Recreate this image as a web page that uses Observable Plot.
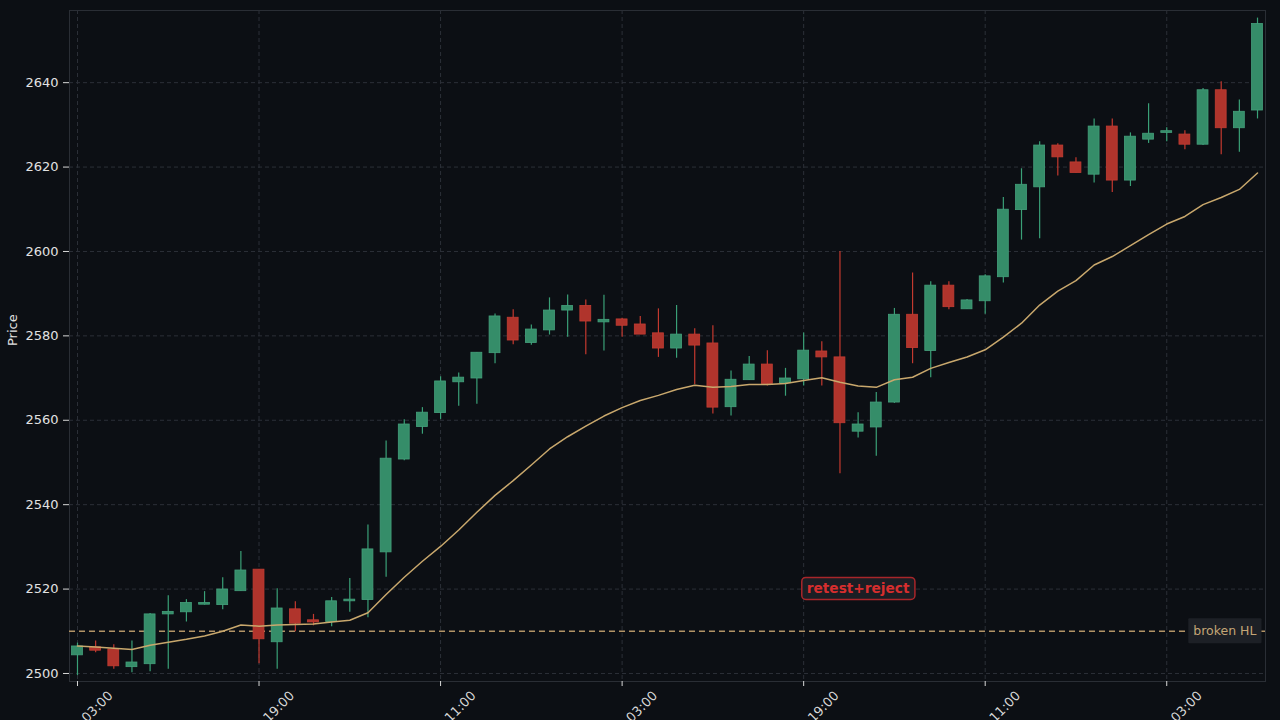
<!DOCTYPE html>
<html><head><meta charset="utf-8">
<script src="https://cdn.jsdelivr.net/npm/d3@7"></script>
<script src="https://cdn.jsdelivr.net/npm/@observablehq/plot@0.6"></script>
<style>
html,body{margin:0;padding:0;background:#0c0f14;overflow:hidden;}
#chart{width:1280px;height:720px;}
</style></head><body><div id="chart"></div>
<script>
const startTime = "2024-03-04T03:00:00Z";
const stepHours = 4;
const open  = [2504.3,2506.2,2505.7,2501.5,2502.2,2514.0,2514.5,2516.3,2516.2,2519.5,
               2524.6,2507.4,2515.2,2512.6,2512.2,2517.1,2517.4,2528.7,2550.7,2558.4,
               2561.7,2569.0,2569.9,2575.9,2584.3,2578.3,2581.3,2586.0,2587.1,2583.2,
               2583.9,2582.7,2580.6,2577.0,2580.3,2578.2,2563.1,2569.5,2573.2,2568.8,
               2569.7,2576.3,2574.9,2557.3,2558.3,2564.2,2585.0,2576.4,2591.9,2586.3,
               2588.2,2593.9,2609.8,2615.2,2625.1,2621.1,2618.2,2629.6,2616.8,2626.5,
               2628.1,2627.7,2625.3,2638.2,2629.2,2633.4];
const high  = [2507.2,2507.7,2506.8,2507.7,2514.2,2518.4,2517.5,2519.4,2522.7,2528.9,
               2524.6,2520.1,2517.0,2514.0,2518.0,2522.5,2535.2,2555.1,2560.1,2563.0,
               2570.3,2571.2,2576.0,2585.2,2586.2,2582.6,2589.0,2589.7,2588.5,2589.6,
               2584.2,2584.6,2586.4,2587.2,2581.7,2582.4,2571.7,2575.1,2576.5,2572.3,
               2580.7,2578.6,2600.0,2561.8,2566.6,2586.5,2594.9,2592.8,2592.8,2588.6,
               2594.5,2612.8,2619.6,2626.0,2625.5,2622.2,2631.4,2631.4,2628.1,2635.0,
               2629.3,2628.6,2638.6,2640.2,2635.9,2655.3];
const low   = [2499.5,2504.9,2501.0,2500.2,2500.4,2501.0,2512.2,2516.2,2515.1,2519.5,
               2502.3,2501.0,2509.9,2511.3,2511.1,2514.5,2513.2,2522.8,2550.4,2556.7,
               2560.2,2563.3,2563.8,2573.4,2577.9,2577.8,2580.2,2579.7,2575.5,2576.4,
               2579.7,2580.3,2574.9,2574.7,2568.5,2561.5,2561.0,2569.5,2568.1,2565.7,
               2568.1,2568.1,2547.3,2555.8,2551.5,2564.0,2573.4,2570.1,2586.2,2586.3,
               2585.1,2592.5,2602.7,2603.0,2617.9,2618.6,2616.2,2614.0,2615.4,2625.6,
               2626.0,2624.1,2625.1,2622.9,2623.5,2631.4];
const close = [2506.4,2505.4,2501.7,2502.6,2514.0,2514.6,2516.7,2516.7,2519.9,2524.4,
               2508.1,2515.4,2511.8,2512.1,2517.1,2517.5,2529.4,2550.9,2559.0,2561.8,
               2569.2,2570.1,2576.0,2584.6,2578.9,2581.5,2586.0,2587.1,2583.4,2583.8,
               2582.4,2580.3,2577.0,2580.3,2577.7,2563.0,2569.6,2573.2,2568.6,2569.9,
               2576.5,2574.9,2559.3,2559.0,2564.2,2585.0,2577.1,2591.9,2586.8,2588.4,
               2594.1,2609.9,2615.8,2625.1,2622.3,2618.6,2629.6,2616.8,2627.2,2627.9,
               2628.5,2625.3,2638.2,2629.2,2633.1,2653.9];
const ma    = [2506.5,2506.3,2506.0,2505.7,2506.7,2507.4,2508.1,2508.9,2510.0,2511.5,
               2511.2,2511.5,2511.6,2511.7,2512.2,2512.6,2514.4,2518.7,2522.8,2526.6,
               2530.1,2534.0,2538.2,2542.2,2545.7,2549.4,2553.2,2556.1,2558.6,2561.0,
               2563.0,2564.7,2565.9,2567.3,2568.3,2567.8,2568.0,2568.5,2568.5,2568.7,
               2569.4,2570.1,2569.0,2568.1,2567.8,2569.6,2570.2,2572.3,2573.7,2575.0,
               2576.7,2579.7,2583.0,2587.3,2590.6,2593.1,2596.8,2598.8,2601.4,2604.0,
               2606.5,2608.3,2611.1,2612.8,2614.7,2618.6];
const xTickIndex = [0,10,20,30,40,50,60];
const yTicks = [2500,2520,2540,2560,2580,2600,2620,2640];
const levelValue = 2510;
const levelLabel = "broken HL";
const annotIndex = 43;
const annotValue = 2520;
const annotText = "retest+reject";
const yLabel = "Price";

const UP = "#358d69", UP_EDGE = "#45a07c", UP_WICK = "#3aa077";
const DN = "#b0342c", DN_EDGE = "#c23d33", DN_WICK = "#c4392f";

const H = 3600e3;
const t0 = new Date(startTime);
const times = open.map((_, i) => new Date(+t0 + i * stepHours * H));
const candles = open.map((o, i) => ({t: times[i], o, h: high[i], l: low[i], c: close[i], up: close[i] >= o}));
const maData = ma.map((v, i) => ({t: times[i], v}));
const tickDates = xTickIndex.map(i => times[i]);
const half = 0.3 * stepHours * H;
const pad = 0.44 * stepHours * H;
const fmt = d3.utcFormat("%H:%M");

const plot = Plot.plot({
  width: 1280, height: 720,
  marginLeft: 69, marginRight: 15, marginTop: 10, marginBottom: 39,
  style: {background: "#0c0f14", color: "#dedede", fontFamily: "DejaVu Sans", fontSize: "12.5px", overflow: "visible"},
  x: {type: "utc", domain: [new Date(+times[0] - pad), new Date(+times[times.length - 1] + pad)]},
  y: {domain: [2498.1, 2657.1]},
  color: {type: "identity"},
  marks: [
    Plot.gridX(tickDates, {stroke: "#2c3038", strokeOpacity: 1, strokeDasharray: "4,3"}),
    Plot.gridY(yTicks, {stroke: "#2c3038", strokeOpacity: 1, strokeDasharray: "4,3"}),
    Plot.frame({stroke: "#2a2e35"}),
    Plot.ruleY([levelValue], {stroke: "#b39466", strokeWidth: 1.6, strokeDasharray: "6,4"}),
    Plot.ruleX(candles, {x: "t", y1: "l", y2: "h", stroke: d => d.up ? UP_WICK : DN_WICK, strokeWidth: 1.2}),
    Plot.rect(candles, {
      x1: d => new Date(+d.t - half), x2: d => new Date(+d.t + half),
      y1: "o", y2: "c",
      fill: d => d.up ? UP : DN, stroke: d => d.up ? UP_EDGE : DN_EDGE, strokeWidth: 0.8
    }),
    Plot.line(maData, {x: "t", y: "v", stroke: "#c9a86d", strokeWidth: 1.5}),
    Plot.axisY(yTicks, {tickSize: 6, tickPadding: 5, tickFormat: d => String(d), stroke: "#d8d8d8", fill: "#e2e2e2", label: null, fontSize: 13}),
    Plot.axisX(tickDates, {tickSize: 5, tickFormat: () => "", stroke: "#d8d8d8", label: null}),
    Plot.text(tickDates, {x: d => d, frameAnchor: "bottom", dx: 36, dy: 15, rotate: -45, textAnchor: "end", text: d => fmt(d), fill: "#d8d8d8", fontSize: 13}),
    Plot.text([yLabel], {frameAnchor: "left", dx: -57, rotate: -90, text: d => d, fill: "#e2e2e2", fontSize: 13}),
    Plot.text([levelLabel], {frameAnchor: "right", y: () => levelValue, dx: -9, textAnchor: "end", text: d => d, fill: "#c4a676", fontSize: 12.5}),
    Plot.text([annotText], {x: () => times[annotIndex], y: () => annotValue, text: d => d, fill: "#d62e2e", fontWeight: "bold", fontSize: 13.7})
  ]
});
document.getElementById("chart").appendChild(plot);

function boxBehind(label, padX, padY, fill, stroke, rx) {
  const el = Array.from(plot.querySelectorAll("text")).find(t => t.textContent === label);
  if (!el) return;
  const b = el.getBBox();
  const r = document.createElementNS("http://www.w3.org/2000/svg", "rect");
  r.setAttribute("x", b.x - padX);
  r.setAttribute("y", b.y - padY);
  r.setAttribute("width", b.width + 2 * padX);
  r.setAttribute("height", b.height + 2 * padY);
  r.setAttribute("rx", rx);
  r.setAttribute("fill", fill);
  if (stroke) { r.setAttribute("stroke", stroke); r.setAttribute("stroke-width", 1.5); } else r.setAttribute("stroke", "none");
  const tr = el.getAttribute("transform");
  if (tr) r.setAttribute("transform", tr);
  el.parentNode.insertBefore(r, el);
}
boxBehind(levelLabel, 5, 5, "#1d2026", null, 1);
boxBehind(annotText, 5, 3, "#1b1e24", "#a8262a", 4);
</script></body></html>
